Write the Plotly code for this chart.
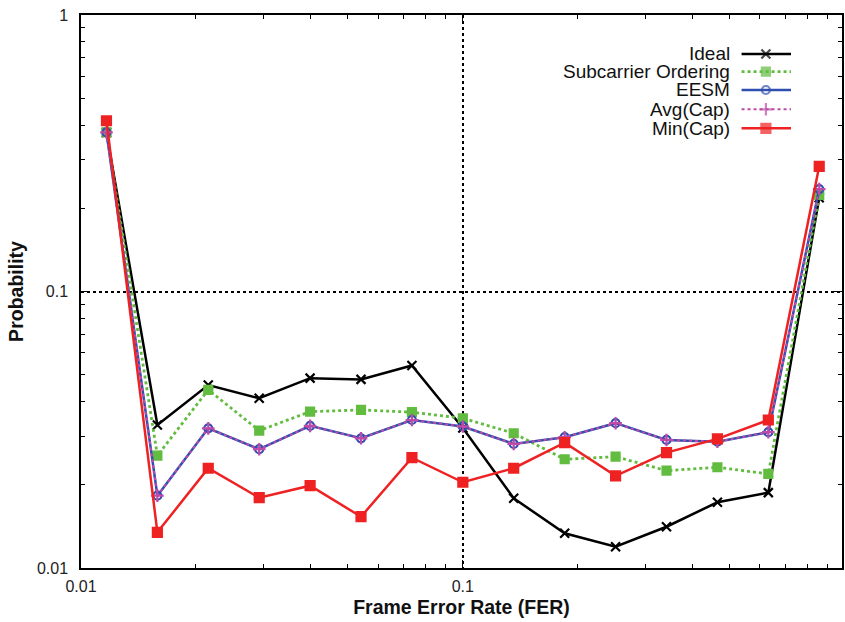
import plotly.graph_objects as go

# FER bin centres (x) and probabilities (y)
fer = [0.01166, 0.01585, 0.02154, 0.02929, 0.03981, 0.05412, 0.07356, 0.1,
       0.1359, 0.1848, 0.2512, 0.3415, 0.4642, 0.6310, 0.8577]

ideal = [0.376, 0.0329, 0.0459, 0.0411, 0.0486, 0.0481, 0.0540, 0.0321,
         0.01787, 0.01335, 0.01194, 0.0141, 0.01729, 0.01873, 0.2182]
subcarrier = [0.376, 0.0255, 0.0441, 0.03139, 0.03678, 0.0373, 0.0366, 0.0348,
              0.03072, 0.02473, 0.02527, 0.02249, 0.02314, 0.02189, 0.2237]
eesm = [0.376, 0.01827, 0.0320, 0.02689, 0.03265, 0.02945, 0.0343, 0.0325,
        0.0281, 0.02972, 0.0334, 0.02905, 0.02864, 0.03098, 0.2346]
avgcap = [0.376, 0.01827, 0.0320, 0.02689, 0.03265, 0.02945, 0.0343, 0.0325,
          0.0281, 0.02972, 0.0334, 0.02905, 0.02864, 0.03098, 0.2346]
mincap = [0.4145, 0.01346, 0.02295, 0.01796, 0.01985, 0.01533, 0.02506, 0.02042,
          0.02295, 0.0284, 0.02153, 0.02613, 0.0293, 0.0343, 0.2837]

names = ["Ideal", "Subcarrier Ordering", "EESM", "Avg(Cap)", "Min(Cap)"]
series = [ideal, subcarrier, eesm, avgcap, mincap]

styles = [
    dict(color="#000000", dash="solid", symbol="x-thin", size=9, lw=2.5),
    dict(color="#62bc40", dash="dot", symbol="square", size=8, lw=2.8),
    dict(color="#2f4fb0", dash="solid", symbol="circle-open", size=8, lw=2.5),
    dict(color="#c04aa8", dash="dot", symbol="cross-thin", size=9, lw=2.0),
    dict(color="#ee2222", dash="solid", symbol="square", size=9, lw=2.5),
]

FONT = "Liberation Sans, Arial, Helvetica, sans-serif"

fig = go.Figure()
for name, ys, st in zip(names, series, styles):
    fig.add_trace(go.Scatter(
        x=fer, y=ys, mode="lines+markers", name=name, showlegend=False,
        line=dict(color=st["color"], dash=st["dash"], width=st["lw"]),
        marker=dict(symbol=st["symbol"], size=st["size"], color=st["color"],
                    line=dict(color=st["color"], width=2.2)),
    ))

# manual gnuplot-style key (text right-aligned, sample to the right)
key_rows = [0.9295, 0.8975, 0.8644, 0.8295, 0.7951]
for name, st, yk in zip(names, styles, key_rows):
    fig.add_trace(go.Scatter(
        x=[0.868, 0.900, 0.933], y=[yk, yk, yk], xaxis="x2", yaxis="y2",
        mode="lines+markers", showlegend=False, hoverinfo="skip",
        line=dict(color=st["color"], dash=st["dash"], width=st["lw"]),
        marker=dict(symbol=st["symbol"], size=[0, st["size"], 0], color=st["color"],
                    line=dict(color=st["color"], width=2.2)),
    ))
    fig.add_annotation(x=0.855, y=yk, xref="paper", yref="paper", text=name,
                       showarrow=False, xanchor="right", yanchor="middle",
                       font=dict(family=FONT, size=19, color="#111111"))

axis_common = dict(
    type="log", showline=True, linecolor="black", linewidth=1.5, mirror="allticks",
    ticks="inside", ticklen=8, tickcolor="black", tickwidth=1,
    showgrid=True, gridcolor="black", griddash="dot", gridwidth=1.5,
    zeroline=False,
    minor=dict(ticks="inside", ticklen=4, tickcolor="black", dtick="D1", showgrid=False),
    tickfont=dict(family=FONT, size=16, color="#222222"),
    tickvals=[0.01, 0.1, 1], ticktext=["0.01", "0.1", "1"],
)

fig.update_layout(
    width=845, height=622,
    margin=dict(l=81, r=1, t=15, b=54),
    paper_bgcolor="white", plot_bgcolor="white",
    font=dict(family=FONT),
    xaxis=dict(axis_common, range=[-2, -0.007], ticklabelstandoff=3,
               title=dict(text="<b>Frame Error Rate (FER)</b>", standoff=6,
                          font=dict(family=FONT, size=19.5, color="#111111"))),
    yaxis=dict(axis_common, range=[-2, 0], ticklabelstandoff=8,
               title=dict(text="<b>Probability</b>", standoff=8,
                          font=dict(family=FONT, size=19.5, color="#111111"))),
    xaxis2=dict(overlaying="x", range=[0, 1], visible=False, domain=[0, 1]),
    yaxis2=dict(overlaying="y", range=[0, 1], visible=False),
)

fig.write_html("out.html")
